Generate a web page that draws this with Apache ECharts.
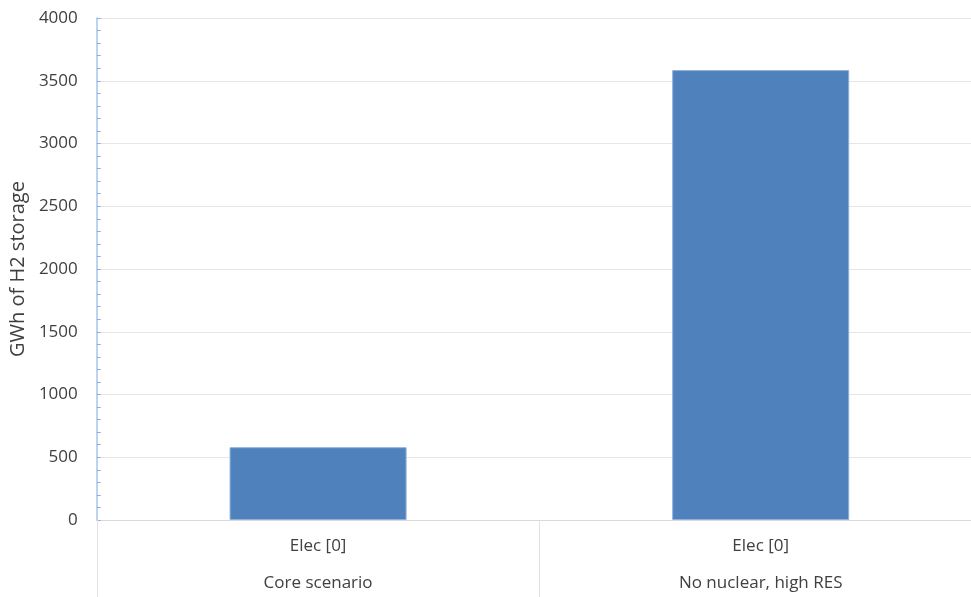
<!DOCTYPE html>
<html>
<head>
<meta charset="utf-8">
<script src="https://cdn.jsdelivr.net/npm/echarts@6/dist/echarts.min.js"></script>
<style>
  html, body { margin: 0; padding: 0; background: #fff; overflow: hidden; }
  /* plot area runs slightly past the right edge of the visible page */
  #chart { width: 983px; height: 597px; }
</style>
</head>
<body>
<div id="chart"></div>
<script>
// Hydrogen storage requirement per scenario
const barLabels = ['Elec [0]', 'Elec [0]'];
const scenarios = ['Core scenario', 'No nuclear, high RES'];
const storageGWh = [580, 3585];
const yTicks = [0, 500, 1000, 1500, 2000, 2500, 3000, 3500, 4000];

const chart = echarts.init(document.getElementById('chart'));
const font = '"Open Sans", "Segoe UI", sans-serif';

chart.setOption({
  animation: false,
  grid: { left: 96, top: 18, bottom: 77, right: 1 },
  xAxis: [
    {
      type: 'category',
      data: barLabels,
      position: 'bottom',
      axisLine: { lineStyle: { color: '#d9d9d9', width: 1 } },
      axisTick: { show: true, interval: 0, length: 77, lineStyle: { color: '#e2e2e2' } },
      axisLabel: { interval: 0, margin: 18, color: '#404040', fontSize: 17, fontFamily: font }
    },
    {
      type: 'category',
      data: scenarios,
      position: 'bottom',
      offset: 37,
      axisLine: { show: false },
      axisTick: { show: false },
      axisLabel: { interval: 0, margin: 18, color: '#404040', fontSize: 17, fontFamily: font }
    }
  ],
  yAxis: {
    type: 'value',
    min: yTicks[0],
    max: yTicks[yTicks.length - 1],
    interval: 500,
    name: 'GWh of H2 storage',
    nameLocation: 'middle',
    nameGap: 68,
    nameTextStyle: { color: '#404040', fontSize: 20, fontFamily: font },
    axisLine: { show: true, lineStyle: { color: '#a9c4eb', width: 1.5 } },
    axisTick: { show: true, inside: true, length: 4, lineStyle: { color: '#8eb0dd' } },
    minorTick: { show: true, splitNumber: 5, length: 4, lineStyle: { color: '#8eb0dd' } },
    axisLabel: { margin: 19, color: '#404040', fontSize: 17, fontFamily: font, formatter: v => String(v) },
    splitLine: { show: true, lineStyle: { color: '#e6e6e6', width: 1 } }
  },
  series: [
    {
      type: 'bar',
      data: storageGWh,
      barWidth: '40%',
      itemStyle: { color: '#4f81bd', borderColor: '#8fb0dc', borderWidth: 1 }
    }
  ]
});
</script>
</body>
</html>
